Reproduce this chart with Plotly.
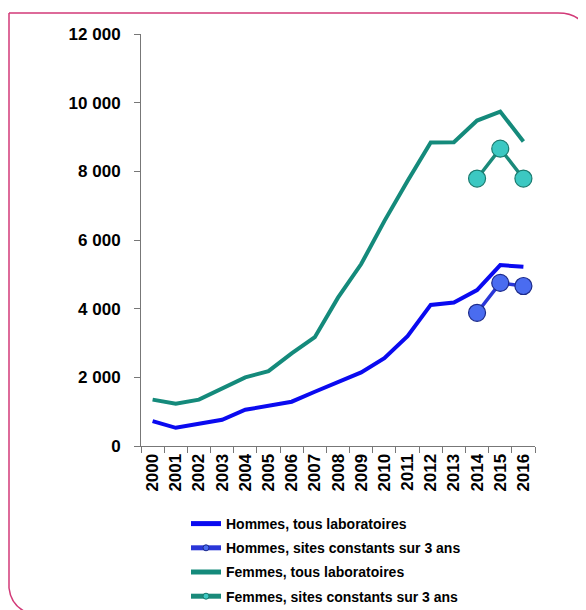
import plotly.graph_objects as go

years = [str(y) for y in range(2000, 2017)]
hommes_tous = [725, 530, 650, 765, 1055, 1180, 1290, 1580, 1855, 2145, 2560, 3200, 4110, 4180, 4540, 5270, 5220]
femmes_tous = [1350, 1230, 1350, 1690, 2000, 2180, 2700, 3170, 4320, 5300, 6550, 7720, 8840, 8850, 9480, 9740, 8870]
years_const = ["2014", "2015", "2016"]
hommes_const = [3880, 4750, 4660]
femmes_const = [7790, 8660, 7790]

y_tickvals = [0, 2000, 4000, 6000, 8000, 10000, 12000]
y_ticktext = ["0", "2 000", "4 000", "6 000", "8 000", "10 000", "12 000"]

names = ["Hommes, tous laboratoires", "Hommes, sites constants sur 3 ans",
         "Femmes, tous laboratoires", "Femmes, sites constants sur 3 ans"]

# The page body has an 8px margin: the figure is placed at (8, 8) in the window.
OFF = 8
WIN_W, WIN_H = 586, 610
W, H = WIN_W - OFF, WIN_H - OFF
# plot area in window pixels: x 141..535, y 34..446
L, R, T, B = 141 - OFF, WIN_W - 535, 34 - OFF, WIN_H - 446
PW, PH = W - L - R, H - T - B


def px(x):
    """window pixel x -> paper coordinate"""
    return (x - OFF - L) / PW


def py(y):
    """window pixel y -> paper coordinate"""
    return (H - B - (y - OFF)) / PH


BLUE = "#0a0af0"
TEAL = "#148a7b"
HC_LINE, HC_FILL, HC_EDGE = "#2a36d8", "#4a6cf0", "#1c2a8a"
FC_LINE, FC_FILL, FC_EDGE = "#1a8a7a", "#3cc8c2", "#1a7a6e"
FONT = "Liberation Sans, Arial, sans-serif"

fig = go.Figure()
fig.add_trace(go.Scatter(x=years, y=hommes_tous, mode="lines", showlegend=False,
                         line=dict(color=BLUE, width=4)))
fig.add_trace(go.Scatter(x=years_const, y=hommes_const, mode="lines+markers", showlegend=False,
                         line=dict(color=HC_LINE, width=3.5),
                         marker=dict(size=17, color=HC_FILL, line=dict(color=HC_EDGE, width=1.2))))
fig.add_trace(go.Scatter(x=years, y=femmes_tous, mode="lines", showlegend=False,
                         line=dict(color=TEAL, width=4)))
fig.add_trace(go.Scatter(x=years_const, y=femmes_const, mode="lines+markers", showlegend=False,
                         line=dict(color=FC_LINE, width=3.5),
                         marker=dict(size=17, color=FC_FILL, line=dict(color=FC_EDGE, width=1.2))))

# legend entries (small legend markers, as in the reference)
fig.add_trace(go.Scatter(x=[None], y=[None], mode="lines", name=names[0],
                         line=dict(color=BLUE, width=5), legendgroup="a"))
fig.add_trace(go.Scatter(x=[None], y=[None], mode="lines+markers", name=names[1],
                         line=dict(color=HC_LINE, width=5),
                         marker=dict(size=6, color=HC_FILL, line=dict(color=HC_EDGE, width=1)),
                         legendgroup="b"))
fig.add_trace(go.Scatter(x=[None], y=[None], mode="lines", name=names[2],
                         line=dict(color=TEAL, width=5), legendgroup="c"))
fig.add_trace(go.Scatter(x=[None], y=[None], mode="lines+markers", name=names[3],
                         line=dict(color=FC_LINE, width=5),
                         marker=dict(size=6, color=FC_FILL, line=dict(color=FC_EDGE, width=1)),
                         legendgroup="d"))

frame = (f"M {px(9)},{py(13)} L {px(558)},{py(13)} Q {px(588)},{py(13)} {px(588)},{py(44)} "
         f"L {px(588)},{py(620)} "
         f"M {px(9)},{py(13)} L {px(9)},{py(588)} Q {px(11)},{py(606)} {px(28)},{py(613)}")

fig.update_layout(
    width=W, height=H,
    margin=dict(l=L, r=R, t=T, b=B, autoexpand=False),
    paper_bgcolor="white", plot_bgcolor="white",
    font=dict(family=FONT, color="black"),
    showlegend=True,
    legend=dict(x=px(186), y=py(508), xanchor="left", yanchor="top",
                font=dict(size=14, family=FONT, weight="bold", color="black"),
                traceorder="grouped", tracegroupgap=3, itemsizing="trace",
                bgcolor="rgba(0,0,0,0)"),
    shapes=[dict(type="path", xref="paper", yref="paper", path=frame,
                 line=dict(color="#d23a78", width=1.5), layer="above")],
    xaxis=dict(type="category", range=[-0.5, 16.5], tickangle=-90, tickson="boundaries",
               ticks="outside", ticklen=6, tickcolor="#777", showline=True, linecolor="#777",
               linewidth=1, showgrid=False, zeroline=False, automargin=False,
               tickfont=dict(size=17, family=FONT, weight="bold", color="black")),
    yaxis=dict(range=[0, 12000], tickvals=y_tickvals, ticktext=y_ticktext,
               ticks="outside", ticklen=6, tickcolor="#777", showline=True, linecolor="#777",
               linewidth=1, showgrid=False, zeroline=False, ticklabelstandoff=10, automargin=False,
               tickfont=dict(size=17, family=FONT, weight="bold", color="black")),
)

fig.write_html("out.html")
